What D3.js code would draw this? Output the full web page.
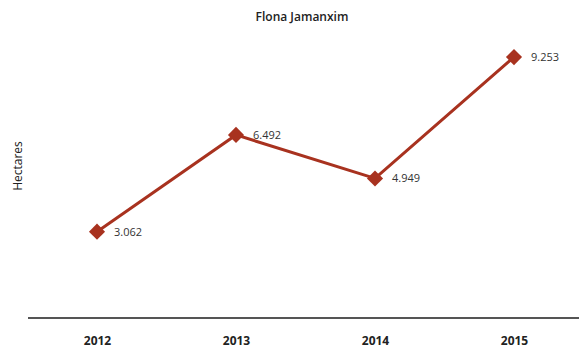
<!DOCTYPE html>
<html><head><meta charset="utf-8">
<script src="https://cdn.jsdelivr.net/npm/d3@7"></script>
<style>body{margin:0;background:#fff;}svg{display:block;font-family:"Open Sans","Noto Sans",sans-serif;}</style>
</head><body><svg id="c" width="579" height="351"></svg>
<script>
const years = ["2012","2013","2014","2015"];
const values = [3062, 6492, 4949, 9253];
const labels = ["3.062","6.492","4.949","9.253"];
const title = "Flona Jamanxim";
const yTitle = "Hectares";

const svg = d3.select("#c");
const x = d3.scalePoint().domain(years).range([97, 514]);
const y = d3.scaleLinear().domain([0, 10000]).range([318, 36]);
const color = "#a8321f";

svg.append("text").attr("x", 302).attr("y", 21).attr("text-anchor","middle")
  .attr("font-size", 12).attr("font-weight", 600).attr("fill","#222").text(title);
svg.append("text").attr("transform","translate(22,166) rotate(-90)").attr("text-anchor","middle")
  .attr("font-size", 12).attr("fill","#222").text(yTitle);

const xAxis = svg.append("g").attr("transform","translate(0,318)")
  .call(d3.axisBottom(x).tickSize(0).tickPadding(18));
xAxis.select(".domain").remove();
xAxis.append("line").attr("x1",28).attr("x2",579).attr("y1",0).attr("y2",0)
  .attr("stroke","#555").attr("stroke-width",2);
xAxis.selectAll(".tick text").attr("font-size",12).attr("font-weight",700)
  .attr("fill","#222").attr("font-family",'"Open Sans","Noto Sans",sans-serif');

const data = years.map((d,i)=>({year:d, value:values[i], label:labels[i]}));
svg.append("path").datum(data)
  .attr("d", d3.line().x(d=>x(d.year)).y(d=>y(d.value)))
  .attr("fill","none").attr("stroke",color).attr("stroke-width",3);

svg.selectAll(".pt").data(data).enter().append("path")
  .attr("d", d3.symbol(d3.symbolSquare, 130)())
  .attr("transform", d=>`translate(${x(d.year)},${y(d.value)}) rotate(45)`)
  .attr("fill", color);

svg.selectAll(".lbl").data(data).enter().append("text")
  .attr("x", d=>x(d.year)+17).attr("y", d=>y(d.value)+4)
  .attr("font-size", 11).attr("fill","#333").text(d=>d.label);
</script></body></html>
